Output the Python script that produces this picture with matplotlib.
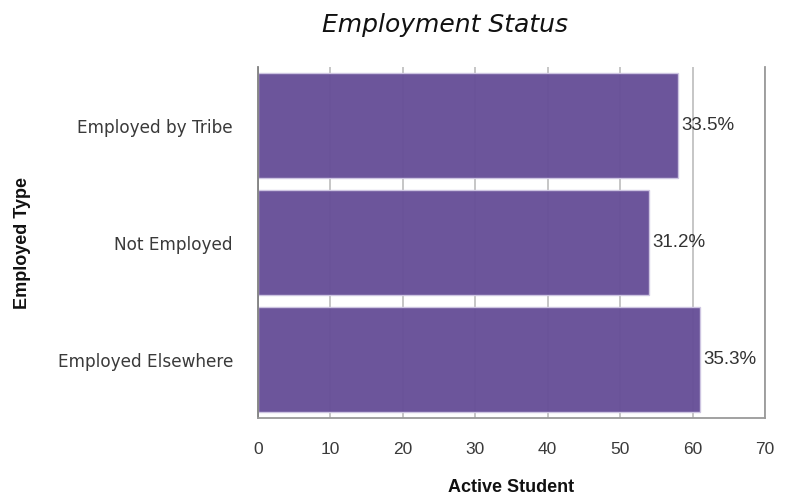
import matplotlib
matplotlib.use("Agg")
import matplotlib.pyplot as plt

categories = ["Employed by Tribe", "Not Employed", "Employed Elsewhere"]
values = [58, 54, 61]
pct_labels = ["33.5%", "31.2%", "35.3%"]
xticks = [0, 10, 20, 30, 40, 50, 60, 70]

W, H = 791, 498
fig = plt.figure(figsize=(W / 100, H / 100), dpi=100)
ax = fig.add_axes([258 / W, 1 - 418 / H, (765 - 258) / W, (418 - 67) / H])

bar_color = "#664e97"
ypos = list(range(len(categories)))
ax.barh(ypos, values, height=0.89, color=bar_color, alpha=0.96,
        edgecolor="#cfc6e2", linewidth=1.0, zorder=2)

for y, v, lab in zip(ypos, values, pct_labels):
    ax.text(v + 0.45, y, lab, va="center", ha="left", fontsize=13.5,
            color="#333333", family="Liberation Sans", zorder=3)

ax.set_xlim(0, 70)
ax.set_ylim(2.5, -0.5)
ax.set_xticks(xticks)
ax.set_xticklabels([str(t) for t in xticks])
ax.set_yticks(ypos)
ax.set_yticklabels(categories)
ax.grid(axis="x", color="#bcbcbc", linewidth=1.2, zorder=0)
ax.set_axisbelow(True)

for lab in ax.get_yticklabels():
    lab.set_family("DejaVu Sans")
    lab.set_fontsize(12.2)
    lab.set_color("#3a3a3a")
for lab in ax.get_xticklabels():
    lab.set_family("Liberation Sans")
    lab.set_fontsize(12.5)
    lab.set_color("#3a3a3a")

ax.tick_params(axis="y", length=0, pad=18)
ax.tick_params(axis="x", length=0, pad=17)

ax.spines["top"].set_visible(False)
for s in ["left", "right", "bottom"]:
    ax.spines[s].set_color("#9a9a9a")
    ax.spines[s].set_linewidth(1.3)
ax.spines["left"].set_color("#808080")

ax.set_xlabel("Active Student", fontsize=13, fontweight="bold",
              family="Liberation Sans", color="#111111", labelpad=16)
fig.text(23 / W, 1 - 243 / H, "Employed Type", rotation=90, ha="center",
         va="center", fontsize=13, fontweight="bold",
         family="Liberation Sans", color="#111111")

fig.text(445 / W, 1 - 25 / H, "Employment Status", ha="center", va="center",
         fontsize=18, style="italic", weight="light", family="DejaVu Sans",
         color="#111111")

fig.savefig("out.png", dpi=100)
